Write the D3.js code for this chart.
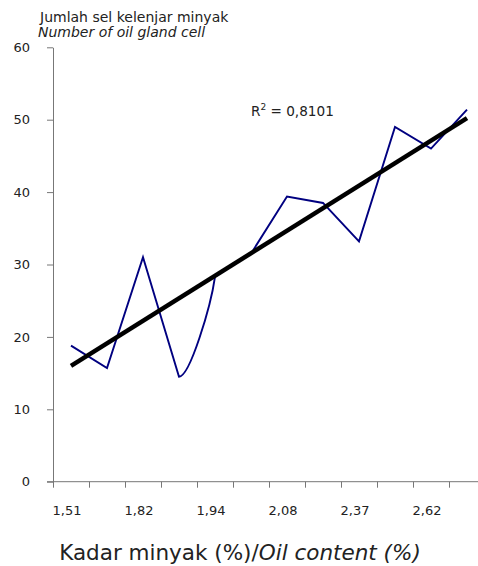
<!DOCTYPE html>
<html>
<head>
<meta charset="utf-8">
<script src="https://cdn.jsdelivr.net/npm/d3@7/dist/d3.min.js"></script>
<style>
  body { margin: 0; background: #fff; }
  svg { display: block; font-family: "DejaVu Sans", Verdana, sans-serif; }
</style>
</head>
<body>
<div id="chart"></div>
<script>
// oil content classes (only every other one is labelled on the axis)
const categories = ['1,51', '1,65', '1,82', '1,88', '1,94', '2,01', '2,08', '2,25', '2,37', '2,48', '2,62', '2,70'];
const cellCounts = [18.8, 15.7, 31.0, 14.5, 28.3, 31.5, 39.4, 38.5, 33.2, 49.0, 46.0, 51.4];
const yTicks = [0, 10, 20, 30, 40, 50, 60];
const r2Label = '0,8101';
const smoothFrom = 3; // segment 3 -> 4 is drawn smoothed in the original

const width = 478, height = 566;
const plotLeft = 53, plotTop = 47.3, plotBottom = 481.7, plotRight = 485;

const svg = d3.select('#chart').append('svg')
    .attr('width', width)
    .attr('height', height);

const x = d3.scaleBand().domain(categories).range([plotLeft, plotRight]).padding(0);
const xIdx = d3.scaleLinear().domain([0, categories.length]).range([plotLeft, plotRight]);
const y = d3.scaleLinear().domain([0, 60]).range([plotBottom, plotTop]);
const cx = c => x(c) + x.bandwidth() / 2;

// y axis
const yAxis = svg.append('g')
    .attr('transform', 'translate(' + plotLeft + ',0)')
    .call(d3.axisLeft(y).tickValues(yTicks).tickSize(6).tickSizeOuter(0).tickPadding(17));
yAxis.selectAll('text').attr('font-size', 13).attr('font-family', '"DejaVu Sans", sans-serif').attr('fill', '#222');

// x axis: tick marks on category boundaries, labels in the middle
const xTicks = svg.append('g')
    .attr('transform', 'translate(0,' + plotBottom + ')')
    .call(d3.axisBottom(xIdx).tickValues(d3.range(0, categories.length + 1)).tickFormat('').tickSize(6).tickSizeOuter(0));
xTicks.select('.domain').attr('d', 'M' + (plotLeft - 6) + ',0H' + plotRight);

const xLabels = svg.append('g')
    .attr('transform', 'translate(0,' + plotBottom + ')')
    .call(d3.axisBottom(x).tickSize(0).tickPadding(24).tickFormat((d, i) => i % 2 === 0 ? d : ''));
xLabels.select('.domain').remove();
xLabels.selectAll('text').attr('font-size', 13).attr('font-family', '"DejaVu Sans", sans-serif').attr('fill', '#222').attr('dx', -4);

svg.selectAll('.domain, .tick line').attr('stroke', '#777');

// data line, straight segments except one smoothed segment
function partlySmooth(context) {
    let pts = [];
    return {
        areaStart() {}, areaEnd() {},
        lineStart() { pts = []; },
        point(px, py) { pts.push([+px, +py]); },
        lineEnd() {
            pts.forEach(([px, py], i) => {
                if (i === 0) context.moveTo(px, py);
                else if (i - 1 === smoothFrom) {
                    const [x0, y0] = pts[i - 1];
                    const dx = px - x0;
                    context.bezierCurveTo(x0 + dx * 0.3, y0, px - dx * 0.12, py + (y0 - py) * 0.3, px, py);
                } else context.lineTo(px, py);
            });
        }
    };
}

svg.append('path')
    .datum(cellCounts)
    .attr('fill', 'none')
    .attr('stroke', '#000080')
    .attr('stroke-width', 1.9)
    .attr('d', d3.line()
        .x((d, i) => cx(categories[i]))
        .y(d => y(d))
        .curve(partlySmooth));

// linear trend (least squares on category index)
const n = cellCounts.length;
const mx = d3.mean(d3.range(n));
const my = d3.mean(cellCounts);
const slope = d3.sum(cellCounts, (v, i) => (i - mx) * (v - my)) / d3.sum(d3.range(n), i => (i - mx) * (i - mx));
const icpt = my - slope * mx;
const trend = [0, n - 1].map(i => ({ i, v: icpt + slope * i }));

svg.append('path')
    .datum(trend)
    .attr('fill', 'none')
    .attr('stroke', '#000')
    .attr('stroke-width', 4.5)
    .attr('d', d3.line()
        .x(d => cx(categories[d.i]))
        .y(d => y(d.v)));

// R squared label
const r2 = svg.append('text')
    .attr('x', 251)
    .attr('y', 116)
    .attr('font-size', 13.6)
    .attr('fill', '#222');
r2.append('tspan').text('R');
r2.append('tspan').attr('font-size', 9).attr('dy', -6).text('2');
r2.append('tspan').attr('dy', 6).text(' = ' + r2Label);

// y title
svg.append('text')
    .attr('x', 40).attr('y', 21.5)
    .attr('font-size', 14).attr('fill', '#222')
    .text('Jumlah sel kelenjar minyak');
svg.append('text')
    .attr('x', 38).attr('y', 36.5)
    .attr('font-size', 14).attr('font-style', 'italic').attr('fill', '#222')
    .text('Number of oil gland cell');

// x title
const xt = svg.append('text')
    .attr('x', 240).attr('y', 560)
    .attr('text-anchor', 'middle')
    .attr('font-size', 21.5).attr('fill', '#222');
xt.append('tspan').text('Kadar minyak (%)/');
xt.append('tspan').attr('font-style', 'italic').text('Oil content (%)');
</script>
</body>
</html>
